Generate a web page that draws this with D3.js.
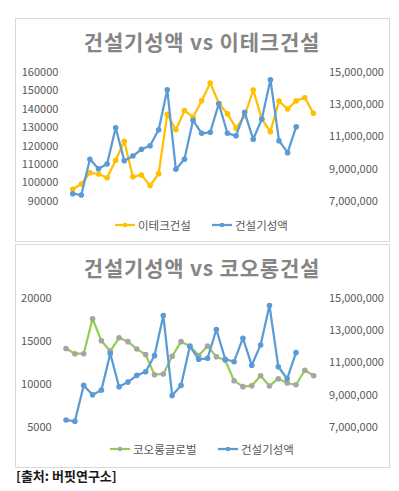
<!DOCTYPE html>
<html>
<head>
<meta charset="utf-8">
<script src="https://cdn.jsdelivr.net/npm/d3@7"></script>
<style>
  body { margin: 0; background: #fff; }
  svg text { font-family: "Noto Sans CJK KR", "Noto Sans", sans-serif; }
</style>
</head>
<body>
<svg id="chart" width="399" height="491"></svg>
<script>
// periods (category axis is hidden in the original)
const periods = d3.range(1, 30);

// 건설기성액 (right axis, both charts)
const construction = [7435000, 7354000, 9573000, 8989000, 9281000, 11538000, 9486000, 9779000,
  10195000, 10419000, 11413000, 13900000, 8952000, 9573000, 11998000, 11190000, 11252000,
  13030000, 11190000, 11040000, 12495000, 10817000, 12078000, 14521000, 10730000, 9984000, 11600000];

// 이테크건설 (left axis, chart 1)
const etec = [96200, 99100, 105200, 104500, 102500, 112000, 122300, 103000, 104000, 98200,
  104700, 137000, 128600, 139000, 135400, 144400, 154000, 143000, 137300, 129500, 136100,
  150200, 134400, 127500, 144200, 139900, 144400, 146000, 137500];

// 코오롱글로벌 (left axis, chart 2)
const kolon = [14100, 13500, 13500, 17560, 15000, 13800, 15350, 14900, 14050, 13400, 11070,
  11150, 13200, 14900, 14400, 13300, 14400, 13150, 12740, 10370, 9680, 9790, 10950, 9760,
  10600, 10100, 9900, 11580, 10950];

const leftTicks1 = [90000, 100000, 110000, 120000, 130000, 140000, 150000, 160000];
const leftTicks2 = [5000, 10000, 15000, 20000];
const rightTicks = [7000000, 9000000, 11000000, 13000000, 15000000];

const svg = d3.select("#chart");

function drawPanel(cfg) {
    const g = svg.append("g");

    // panel frame
    g.append("rect")
        .attr("x", 15.5).attr("y", cfg.top + 0.5)
        .attr("width", 374).attr("height", 223)
        .attr("fill", "#fff").attr("stroke", "#d9d9d9");

    // title
    g.append("text")
        .attr("x", 202).attr("y", cfg.top + 32)
        .attr("text-anchor", "middle")
        .attr("font-size", 21).attr("font-weight", "bold")
        .attr("letter-spacing", 0.8)
        .attr("fill", "#858585")
        .text(cfg.title);

    const x = d3.scaleBand()
        .domain(periods)
        .range([cfg.left, cfg.right]);

    const yL = d3.scaleLinear().domain(cfg.leftDomain).range([cfg.bottom, cfg.plotTop]);
    const yR = d3.scaleLinear().domain([7000000, 15000000]).range([cfg.bottom, cfg.plotTop]);

    const cx = d => x(d) + x.bandwidth() / 2;

    // axes
    const axL = g.append("g")
        .attr("transform", `translate(${cfg.left - 10},0)`)
        .call(d3.axisLeft(yL).tickValues(cfg.leftTicks).tickSize(0).tickPadding(0).tickFormat(d3.format("d")));
    const axR = g.append("g")
        .attr("transform", `translate(329,0)`)
        .call(d3.axisRight(yR).tickValues(rightTicks).tickSize(0).tickPadding(0).tickFormat(d3.format(",")));
    [axL, axR].forEach(a => {
        a.select(".domain").remove();
        a.selectAll("text").attr("font-size", 11).attr("fill", "#595959")
            .attr("font-family", "\"Noto Sans CJK KR\", sans-serif");
    });

    // left series
    const lineL = d3.line().x((d, i) => cx(periods[i])).y(d => yL(d));
    g.append("path")
        .datum(cfg.leftData)
        .attr("fill", "none").attr("stroke", cfg.color)
        .attr("stroke-width", 2.25).attr("stroke-linejoin", "round")
        .attr("d", lineL);
    g.selectAll(".ml")
        .data(cfg.leftData)
        .enter().append("circle")
        .attr("cx", (d, i) => cx(periods[i]))
        .attr("cy", d => yL(d))
        .attr("r", 2.8)
        .attr("fill", cfg.markerColor);

    // right series (건설기성액)
    const lineR = d3.line().x((d, i) => cx(periods[i])).y(d => yR(d));
    g.append("path")
        .datum(construction)
        .attr("fill", "none").attr("stroke", "#5b9bd5")
        .attr("stroke-width", 2.25).attr("stroke-linejoin", "round")
        .attr("d", lineR);
    g.selectAll(".mr")
        .data(construction)
        .enter().append("circle")
        .attr("cx", (d, i) => cx(periods[i]))
        .attr("cy", d => yR(d))
        .attr("r", 2.8)
        .attr("fill", "#5b9bd5");

    // legend
    const items = [
        { name: cfg.name, color: cfg.color, marker: cfg.markerColor, x: cfg.legendX[0] },
        { name: "건설기성액", color: "#5b9bd5", marker: "#5b9bd5", x: cfg.legendX[1] }
    ];
    const lg = g.selectAll(".lg").data(items).enter().append("g")
        .attr("transform", d => `translate(${d.x},${cfg.legendY})`);
    lg.append("line")
        .attr("x1", 0).attr("x2", 20)
        .attr("stroke", d => d.color).attr("stroke-width", 2.25);
    lg.append("circle")
        .attr("cx", 10).attr("r", 2.3)
        .attr("fill", d => d.marker);
    lg.append("text")
        .attr("x", 23).attr("y", 4.5)
        .attr("font-size", 11.5).attr("fill", "#595959")
        .text(d => d.name);
}

drawPanel({
    top: 18, title: "건설기성액 vs 이테크건설",
    left: 68.4, right: 317.7, plotTop: 72, bottom: 200.7,
    leftDomain: [90000, 160000], leftTicks: leftTicks1,
    leftData: etec, name: "이테크건설",
    color: "#ffc000", markerColor: "#ffc000",
    legendX: [115, 212], legendY: 225
});

drawPanel({
    top: 244, title: "건설기성액 vs 코오롱건설",
    left: 61.6, right: 318.1, plotTop: 297.7, bottom: 427,
    leftDomain: [5000, 20000], leftTicks: leftTicks2,
    leftData: kolon, name: "코오롱글로벌",
    color: "#92d050", markerColor: "#a5a5a5",
    legendX: [110, 218], legendY: 449
});

// source note
svg.append("text")
    .attr("x", 16).attr("y", 481)
    .attr("font-size", 13).attr("font-weight", "bold")
    .attr("fill", "#1a1a1a")
    .text("[출처: 버핏연구소]");
</script>
</body>
</html>
